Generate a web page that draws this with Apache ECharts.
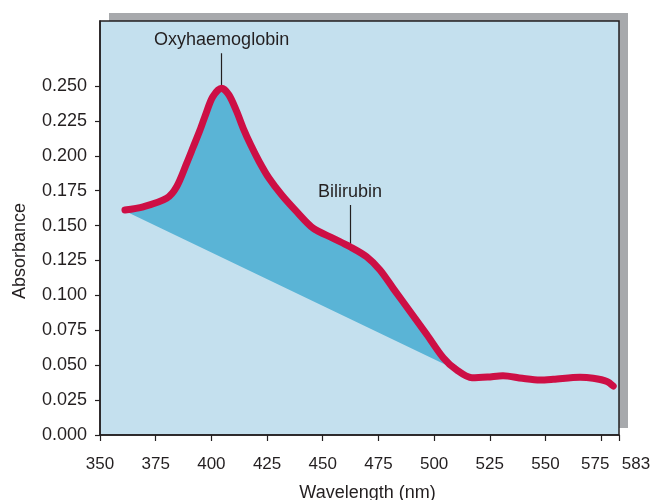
<!DOCTYPE html>
<html>
<head>
<meta charset="utf-8">
<script src="https://cdn.jsdelivr.net/npm/echarts@6/dist/echarts.min.js"></script>
<style>
  html, body { margin: 0; padding: 0; background: #ffffff; }
  #chart { width: 653px; height: 500px; }
</style>
</head>
<body>
<div id="chart"></div>
<script>
// ---- data ----
const wavelength = [361.2, 369.4, 379.9, 384.4, 388.9, 391.9, 394.9, 397.6, 400.6, 404.6, 407.9, 411.4, 414.3, 417.7, 421.5, 425.9, 431.6, 438.3, 445.8, 454.7, 462.2, 469.7, 475.7, 481.7, 489.2, 496.7, 504.1, 510.1, 517.0, 524.0, 530.9, 539.6, 547.5, 553.5, 565.5, 571.4, 577.6, 580.4];
const absorbance = [0.1612, 0.1635, 0.1696, 0.1779, 0.1946, 0.2065, 0.2185, 0.2304, 0.2423, 0.2484, 0.2436, 0.2316, 0.2197, 0.2077, 0.1958, 0.1839, 0.1719, 0.1600, 0.1480, 0.1409, 0.1349, 0.1277, 0.1182, 0.1049, 0.0885, 0.0720, 0.0554, 0.0466, 0.0410, 0.0415, 0.0425, 0.0406, 0.0394, 0.0399, 0.0413, 0.0406, 0.0384, 0.0351];

// straight baseline under the shaded region
const baselineWavelength = [361.2, 508.2];
const baselineAbsorbance = [0.1605, 0.048];

// tick labels
const xTicks = [350, 375, 400, 425, 450, 475, 500, 525, 550, 575, 583];
const yTicks = [0, 0.025, 0.05, 0.075, 0.1, 0.125, 0.15, 0.175, 0.2, 0.225, 0.25];

// annotations: label, wavelength, absorbance at bottom / top of the leader line
const annotationLabels = ['Oxyhaemoglobin', 'Bilirubin'];
const annotationWavelength = [404.6, 462.2];
const annotationBottom = [0.2455, 0.134];
const annotationTop = [0.2735, 0.1648];

// ---- build ----
const curveData = wavelength.map((w, i) => [w, absorbance[i]]);
const fillPoly = [];
wavelength.forEach((w, i) => {
  if (w >= baselineWavelength[0] && w <= baselineWavelength[1]) fillPoly.push([w, absorbance[i]]);
});
fillPoly.push([baselineWavelength[1], baselineAbsorbance[1]]);
fillPoly.push([baselineWavelength[0], baselineAbsorbance[0]]);

const markLines = annotationLabels.map((lab, i) => [
  { coord: [annotationWavelength[i], annotationBottom[i]] },
  { coord: [annotationWavelength[i], annotationTop[i]], label: { formatter: lab } }
]);

const textColor = '#231f20';
const font = 'Liberation Sans, Arial, Helvetica, sans-serif';

const chart = echarts.init(document.getElementById('chart'), null, { renderer: 'canvas' });
chart.setOption({
  animation: false,
  backgroundColor: '#ffffff',
  graphic: [{
    type: 'rect', left: 109, top: 13, z: -10,
    shape: { width: 519, height: 415 },
    style: { fill: '#a7a9ac' }
  }],
  grid: {
    left: 100, top: 21, right: 34, bottom: 65,
    outerBoundsMode: 'none',
    containLabel: false,
    show: true, backgroundColor: '#c4e0ee', borderColor: textColor, borderWidth: 1.5
  },
  xAxis: {
    type: 'value', min: 350, max: 583,
    name: 'Wavelength (nm)', nameLocation: 'middle', nameGap: 49,
    nameTextStyle: { fontSize: 18, color: textColor, fontFamily: font, padding: [0, 0, 0, 16] },
    axisLine: { show: true, lineStyle: { color: textColor, width: 1.5 } },
    axisTick: { show: true, length: 6, customValues: xTicks, lineStyle: { color: textColor, width: 1.2 } },
    axisLabel: {
      customValues: xTicks, margin: 21, fontSize: 17, color: textColor, fontFamily: font,
      formatter: v => v === 583 ? '{r|583}' : (v === 575 ? '{l|575}' : String(v)),
      rich: {
        r: { fontSize: 17, color: textColor, fontFamily: font, padding: [0, 0, 0, 34] },
        l: { fontSize: 17, color: textColor, fontFamily: font, padding: [0, 12, 0, 0] }
      }
    },
    splitLine: { show: false }
  },
  yAxis: {
    type: 'value', min: 0, max: 0.2966,
    name: 'Absorbance', nameLocation: 'middle', nameGap: 71, nameRotate: 90,
    nameTextStyle: { fontSize: 18, color: textColor, fontFamily: font, padding: [0, 46, 0, 0] },
    axisLine: { show: true, lineStyle: { color: textColor, width: 1.5 } },
    axisTick: { show: true, length: 5, customValues: yTicks, lineStyle: { color: textColor, width: 1.2 } },
    axisLabel: {
      customValues: yTicks, margin: 13, fontSize: 18, color: textColor, fontFamily: font,
      formatter: v => v.toFixed(3)
    },
    splitLine: { show: false }
  },
  series: [
    {
      type: 'custom',
      z: 2,
      data: [fillPoly[0]],
      encode: { x: 0, y: 1 },
      renderItem: (params, api) => {
        const pts = fillPoly.map(p => api.coord(p));
        return { type: 'polygon', shape: { points: pts }, style: { fill: '#5ab4d6' } };
      },
      silent: true
    },
    {
      type: 'line',
      z: 3,
      data: curveData,
      smooth: 0.3,
      showSymbol: false,
      lineStyle: { color: '#cd0f45', width: 7, cap: 'round', join: 'round' },
      markLine: {
        silent: true,
        symbol: 'none',
        z: 1,
        lineStyle: { color: textColor, width: 1.2, type: 'solid' },
        label: { show: true, position: 'end', distance: 4, fontSize: 18, color: textColor, fontFamily: font },
        data: markLines
      }
    }
  ]
});
</script>
</body>
</html>
